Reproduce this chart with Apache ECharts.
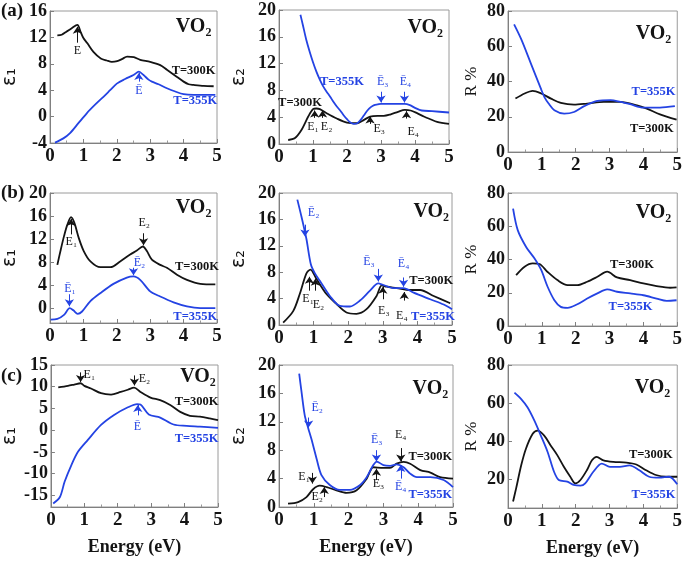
<!DOCTYPE html>
<html><head><meta charset="utf-8">
<script src="https://cdn.jsdelivr.net/npm/echarts@6/dist/echarts.min.js"></script>
<style>html,body{margin:0;padding:0;background:#fff}#c{width:685px;height:561px}</style>
</head><body><div id="c"></div>
<script>
// ---------- DATA (energy eV, value) ----------
const a_eps1_300K = [[0.22,12.3],[0.35,12.4],[0.5,12.9],[0.65,13.4],[0.82,13.9],[0.92,12.8],[1.0,11.9],[1.12,11.1],[1.3,9.8],[1.52,8.8],[1.7,8.5],[1.85,8.3],[2.01,8.4],[2.15,8.7],[2.31,9.1],[2.51,9.0],[2.7,8.6],[3.0,8.3],[3.3,7.8],[3.5,7.1],[3.75,6.2],[4.0,5.3],[4.15,4.9],[4.3,4.8],[4.6,4.65],[4.9,4.6]];
const a_eps1_355K = [[0.15,-3.95],[0.4,-3.3],[0.6,-2.5],[0.85,-1.0],[1.1,0.5],[1.35,1.8],[1.6,3.0],[1.8,4.0],[2.0,5.0],[2.25,5.7],[2.5,6.3],[2.66,6.8],[2.8,6.3],[2.95,5.6],[3.05,5.3],[3.25,4.9],[3.5,4.3],[3.75,3.8],[4.0,3.4],[4.3,3.3],[4.6,3.3],[4.95,3.3]];
const a_eps2_300K = [[0.27,0.6],[0.46,0.85],[0.66,2.1],[0.86,4.1],[1.0,5.2],[1.1,5.3],[1.2,5.2],[1.4,4.6],[1.7,3.8],[2.0,3.2],[2.3,3.1],[2.5,3.6],[2.68,4.1],[2.9,4.2],[3.08,4.2],[3.27,4.4],[3.5,4.8],[3.7,5.1],[3.87,5.0],[4.06,4.6],[4.26,4.1],[4.45,3.7],[4.65,3.3],[5.0,3.0]];
const a_eps2_355K = [[0.63,19.3],[0.7,17.8],[0.8,15.6],[0.9,13.8],[1.0,12.2],[1.1,10.8],[1.2,9.6],[1.3,8.6],[1.4,7.8],[1.5,7.1],[1.6,6.3],[1.7,5.6],[1.8,5.0],[1.9,4.3],[2.0,3.7],[2.1,3.2],[2.2,3.0],[2.3,3.1],[2.4,3.6],[2.5,4.3],[2.6,5.0],[2.7,5.5],[2.8,5.8],[2.9,5.9],[3.0,6.0],[3.4,6.0],[3.7,6.0],[3.85,5.8],[4.0,5.4],[4.2,5.0],[4.5,4.9],[5.0,4.7]];
const a_R_300K = [[0.22,30.3],[0.49,33.2],[0.73,34.7],[0.98,33.2],[1.27,30.3],[1.56,27.9],[1.95,26.9],[2.34,27.5],[2.83,28.4],[3.32,28.4],[3.81,26.5],[4.1,24.6],[4.49,21.4],[4.98,18.4]];
const a_R_355K = [[0.18,72.4],[0.39,64.0],[0.68,50.0],[0.98,35.5],[1.08,31.0],[1.2,27.5],[1.37,23.7],[1.66,21.8],[1.95,22.7],[2.25,26],[2.64,29],[3.03,29.4],[3.32,28.4],[3.61,27.1],[4.0,25.2],[4.49,25.2],[4.93,26]];

const b_eps1_300K = [[0.22,7.5],[0.32,10.1],[0.42,12.5],[0.52,14.5],[0.63,15.8],[0.73,14.8],[0.86,12.2],[1.01,9.9],[1.21,8.1],[1.51,7.1],[1.81,7.1],[2.1,8.1],[2.4,9.3],[2.6,10.0],[2.78,10.7],[2.9,9.9],[3.05,8.4],[3.3,7.5],[3.5,7.0],[3.8,5.8],[4.1,4.9],[4.5,4.2],[4.95,4.1]];
const b_eps1_355K = [[0.02,-2.0],[0.22,-1.9],[0.42,-1.2],[0.59,0.0],[0.7,-0.4],[0.83,-1.0],[0.96,-0.6],[1.21,1.2],[1.51,2.6],[1.9,4.2],[2.3,5.3],[2.5,5.5],[2.7,4.9],[3.0,2.9],[3.3,2.0],[3.7,1.0],[4.1,0.3],[4.5,0.0],[4.95,0.0]];
const b_eps2_300K = [[0.12,0.35],[0.41,2.1],[0.6,4.7],[0.79,7.8],[0.91,8.4],[1.08,7.0],[1.37,4.7],[1.66,3.2],[1.95,1.9],[2.24,1.7],[2.53,2.4],[2.82,4.4],[2.97,6.0],[3.11,5.8],[3.4,5.6],[3.79,5.3],[4.08,5.3],[4.47,4.4],[4.95,3.3]];
const b_eps2_355K = [[0.53,19],[0.65,16.4],[0.79,13.1],[0.92,9.2],[1.03,7.9],[1.18,6.7],[1.47,4.4],[1.76,2.9],[2.05,2.8],[2.34,3.7],[2.63,5.2],[2.87,6.3],[3.0,6.1],[3.3,5.6],[3.6,5.6],[3.89,4.9],[4.37,3.9],[4.76,3.1],[5.0,2.4]];
const b_R_300K = [[0.24,30.6],[0.49,35.7],[0.73,37.7],[0.93,37.3],[1.17,32.5],[1.46,27.6],[1.76,24.6],[2.05,24.6],[2.34,26.6],[2.64,29.6],[2.93,32.7],[3.22,29.2],[3.61,27.6],[4.0,25.6],[4.39,24],[4.79,23],[4.98,23.2]];
const b_R_355K = [[0.15,70.6],[0.29,57.5],[0.54,47.4],[0.78,40.7],[0.98,33.7],[1.17,23.6],[1.37,15.5],[1.56,11.5],[1.76,10.9],[2.05,13.1],[2.34,16.5],[2.64,19.6],[2.93,22],[3.22,20.6],[3.61,19.6],[4.0,18.5],[4.39,16.5],[4.69,15.1],[4.98,15.5]];

const c_eps1_300K = [[0.22,9.85],[0.51,10.2],[0.7,10.5],[0.89,10.8],[1.0,10.2],[1.2,9.6],[1.5,8.5],[1.8,8.2],[2.09,8.8],[2.3,9.3],[2.49,9.8],[2.68,8.8],[2.98,7.5],[3.27,6.9],[3.57,5.8],[3.87,4.2],[4.16,3.3],[4.46,3.1],[4.75,2.7],[5.0,2.3]];
const c_eps1_355K = [[0.07,-16.9],[0.27,-15.4],[0.41,-11.9],[0.61,-8.1],[0.81,-5.0],[1.1,-2.3],[1.5,1.2],[1.89,3.5],[2.29,5.2],[2.58,6.0],[2.68,5.9],[2.93,3.6],[3.27,2.9],[3.67,1.3],[4.06,1.0],[4.46,0.8],[5.0,0.5]];
const c_eps2_300K = [[0.26,0.47],[0.55,0.7],[0.79,1.4],[0.98,2.5],[1.17,3.0],[1.37,2.8],[1.65,2.35],[1.94,2.0],[2.23,2.35],[2.52,4.0],[2.71,5.6],[3.0,5.5],[3.19,5.5],[3.38,6.1],[3.58,6.35],[3.77,6.1],[4.06,5.2],[4.35,4.85],[4.63,4.2],[5.0,4.0]];
const c_eps2_355K = [[0.58,18.8],[0.64,16.5],[0.74,12.9],[0.84,11.1],[0.93,9.6],[1.08,6.8],[1.22,4.5],[1.46,3.1],[1.75,2.4],[2.04,2.4],[2.33,3.1],[2.52,4.2],[2.71,5.9],[2.81,6.4],[3.0,5.9],[3.19,5.8],[3.38,6.0],[3.58,5.6],[3.77,4.7],[3.96,4.2],[4.35,4.2],[4.73,3.8],[5.0,2.8]];
const c_R_300K = [[0.15,8.4],[0.24,15.3],[0.39,27.4],[0.53,36.1],[0.73,43.9],[0.87,45.6],[1.07,43.0],[1.26,37.8],[1.46,32.6],[1.65,26.6],[1.84,21.4],[1.99,17.9],[2.14,19.7],[2.33,24.8],[2.48,30.0],[2.62,31.8],[2.82,30.0],[3.11,29.2],[3.5,28.8],[3.79,27.8],[4.08,24.8],[4.37,22.3],[4.66,21.4],[5.0,21.4]];
const c_R_355K = [[0.19,65.5],[0.39,62.1],[0.58,57.7],[0.78,50.8],[0.97,43.0],[1.17,34.4],[1.36,24.0],[1.5,19.7],[1.75,18.8],[1.94,17.1],[2.14,16.7],[2.28,17.9],[2.52,24.0],[2.77,28.3],[3.01,26.6],[3.3,26.6],[3.59,27.4],[3.88,24.8],[4.17,21.4],[4.47,20.9],[4.76,21.4],[5.0,17.4]];

// tick labels
const xTicks = [0,1,2,3,4,5];
const ticksEps1a = [-4,0,4,8,12,16];
const ticksEps1b = [0,4,8,12,16,20];
const ticksEps1c = [-15,-10,-5,0,5,10,15];
const ticksEps2 = [0,4,8,12,16,20];
const ticksR = [0,20,40,60,80];
const ticksRc = [20,40,60,80];

// ---------- STYLE / LAYOUT ----------
const BLACK = '#141414', BLUE = '#2443e3';
const SERIF = 'Liberation Serif, Times New Roman, serif';
const SANS = 'DejaVu Sans, sans-serif';

const panels = [
 {g:{left:49,top:11,width:168,height:132}, ymin:-4, ymax:16, yt:ticksEps1a, yname:'ε₁', s1:a_eps1_300K, s2:a_eps1_355K,
  arrows:[[0.82,11.2,13.6,BLACK],[2.66,5.3,6.6,BLUE]],
  texts:[[0.82,10.0,'E',BLACK,'e'],[2.66,3.9,'Ē',BLUE,'e'],[4.3,7.0,'T=300K',BLACK,'t'],[4.35,2.4,'T=355K',BLUE,'t'],[4.3,13.6,'VO₂',BLACK,'v']]},
 {g:{left:279,top:10,width:170,height:134}, ymin:0, ymax:20, yt:ticksEps2, yname:'ε₂', s1:a_eps2_300K, s2:a_eps2_355K,
  arrows:[[1.05,3.9,5.0,BLACK],[1.28,3.9,5.0,BLACK],[2.68,3.0,4.1,BLACK],[3.75,3.8,4.9,BLACK],[3.0,7.8,6.2,BLUE],[3.69,7.8,6.2,BLUE]],
  texts:[[1.0,2.5,'E₁',BLACK,'e'],[1.4,2.5,'E₂',BLACK,'e'],[2.95,2.2,'E₃',BLACK,'e'],[3.95,1.8,'E₄',BLACK,'e'],[3.05,9.3,'Ē₃',BLUE,'e'],[3.72,9.3,'Ē₄',BLUE,'e'],
         [0.62,6.2,'T=300K',BLACK,'t'],[1.85,9.3,'T=355K',BLUE,'t'],[4.3,17.4,'VO₂',BLACK,'v']]},
 {g:{left:508,top:11,width:171,height:141}, ymin:0, ymax:80, yt:ticksR, yname:'R %', s1:a_R_300K, s2:a_R_355K,
  arrows:[], texts:[[4.3,34,'T=355K',BLUE,'t'],[4.25,13,'T=300K',BLACK,'t'],[4.3,67,'VO₂',BLACK,'v']]},

 {g:{left:49,top:193,width:168,height:130}, ymin:-2.6, ymax:20, yt:ticksEps1b, yname:'ε₁', s1:b_eps1_300K, s2:b_eps1_355K,
  arrows:[[0.63,12.8,15.5,BLACK],[2.8,13.0,10.9,BLACK],[0.58,2.4,0.3,BLUE],[2.5,7.0,5.7,BLUE]],
  texts:[[0.64,11.5,'E₁',BLACK,'e'],[2.82,14.8,'E₂',BLACK,'e'],[0.6,3.3,'Ē₁',BLUE,'e'],[2.68,7.9,'Ē₂',BLUE,'e'],
         [4.4,7.2,'T=300K',BLACK,'t'],[4.35,-1.5,'T=355K',BLUE,'t'],[4.3,17.4,'VO₂',BLACK,'v']]},
 {g:{left:279,top:193,width:173,height:132}, ymin:0, ymax:20, yt:ticksEps2, yname:'ε₂', s1:b_eps2_300K, s2:b_eps2_355K,
  arrows:[[0.75,15.2,13.4,BLUE],[0.88,5.2,7.3,BLACK],[1.05,5.2,7.0,BLACK],[2.87,8.5,6.6,BLUE],[3.0,3.9,5.8,BLACK],[3.6,7.2,5.8,BLUE],[3.62,3.7,5.0,BLACK]],
  texts:[[1.0,17.0,'Ē₂',BLUE,'e'],[0.84,3.9,'E₁',BLACK,'e'],[1.14,3.1,'E₂',BLACK,'e'],[2.6,9.5,'Ē₃',BLUE,'e'],[3.03,2.1,'E₃',BLACK,'e'],
         [3.6,9.3,'Ē₄',BLUE,'e'],[3.55,1.4,'E₄',BLACK,'e'],[4.4,6.7,'T=300K',BLACK,'t'],[4.45,1.3,'T=355K',BLUE,'t'],[4.4,17.2,'VO₂',BLACK,'v']]},
 {g:{left:508,top:193,width:172,height:133}, ymin:0, ymax:80, yt:ticksR, yname:'R %', s1:b_R_300K, s2:b_R_355K,
  arrows:[], texts:[[3.66,36.7,'T=300K',BLACK,'t'],[3.62,11.5,'T=355K',BLUE,'t'],[4.3,68,'VO₂',BLACK,'v']]},

 {g:{left:49,top:365,width:169,height:142}, ymin:-17.7, ymax:15, yt:ticksEps1c, yname:'ε₁', xname:true, s1:c_eps1_300K, s2:c_eps1_355K,
  arrows:[[0.89,13.3,11.1,BLACK],[2.5,12.6,10.3,BLACK],[2.6,3.4,5.8,BLUE]],
  texts:[[1.15,12.7,'E₁',BLACK,'e'],[2.8,11.9,'E₂',BLACK,'e'],[2.59,0.7,'Ē',BLUE,'e'],[4.36,6.5,'T=300K',BLACK,'t'],[4.36,-2.1,'T=355K',BLUE,'t'],[4.4,12.3,'VO₂',BLACK,'v']]},
 {g:{left:279,top:365,width:174,height:142}, ymin:0, ymax:20, yt:ticksEps2, yname:'ε₂', xname:true, s1:c_eps2_300K, s2:c_eps2_355K,
  arrows:[[0.85,12.6,11.2,BLUE],[0.96,4.8,3.3,BLACK],[1.3,1.4,2.8,BLACK],[2.8,8.0,6.4,BLUE],[2.8,3.8,5.4,BLACK],[3.5,8.3,6.4,BLACK],[3.5,4.0,5.9,BLUE]],
  texts:[[1.1,13.9,'Ē₂',BLUE,'e'],[0.72,4.2,'E₁',BLACK,'e'],[1.1,1.4,'E₂',BLACK,'e'],[2.81,9.4,'Ē₃',BLUE,'e'],[2.86,3.2,'E₃',BLACK,'e'],
         [3.5,10.1,'E₄',BLACK,'e'],[3.5,2.8,'Ē₄',BLUE,'e'],[4.35,7.1,'T=300K',BLACK,'t'],[4.35,1.7,'T=355K',BLUE,'t'],[4.35,16.7,'VO₂',BLACK,'v']]},
 {g:{left:508,top:365,width:172,height:143}, ymin:5, ymax:80, yt:ticksRc, yname:'R %', xname:true, s1:c_R_300K, s2:c_R_355K,
  arrows:[], texts:[[4.22,33,'T=300K',BLACK,'t'],[4.3,11.9,'T=355K',BLUE,'t'],[4.27,68,'VO₂',BLACK,'v']]}
];

const textStyles = {
  e:{fontSize:12, fontWeight:'normal'},
  t:{fontSize:12.5, fontWeight:'bold'},
  v:{fontSize:20, fontWeight:'bold'}
};

const grid=[], xAxis=[], yAxis=[], series=[];
panels.forEach((p,i)=>{
  grid.push(Object.assign({show:true, borderColor:'#9a9a9a', borderWidth:1, containLabel:false}, p.g));
  xAxis.push({type:'value', gridIndex:i, min:0, max:5, interval:1,
    name: p.xname ? 'Energy (eV)' : '', nameLocation:'middle', nameGap:31,
    nameTextStyle:{fontFamily:SERIF, fontWeight:'bold', fontSize:18, color:BLACK},
    axisLine:{show:true, onZero:false, lineStyle:{color:'#808080', width:1}},
    axisTick:{show:true, inside:true, length:4, lineStyle:{color:'#808080'}},
    minorTick:{show:true, splitNumber:2, length:2.5, lineStyle:{color:'#999'}},
    splitLine:{show:false}, minorSplitLine:{show:false},
    axisLabel:{fontFamily:SERIF, fontWeight:'bold', fontSize:19, color:BLACK, margin:4, customValues:xTicks}});
  const isR = p.yname==='R %';
  yAxis.push({type:'value', gridIndex:i, min:p.ymin, max:p.ymax,
    name:p.yname, nameLocation:'middle', nameRotate:90, nameGap: isR?28:30,
    nameTextStyle:{fontFamily: isR?SERIF:SANS, fontSize: isR?17:19, color:BLACK},
    axisLine:{show:true, onZero:false, lineStyle:{color:'#808080', width:1}},
    axisTick:{show:true, inside:true, length:4, customValues:p.yt, lineStyle:{color:'#808080'}},
    splitLine:{show:false},
    axisLabel:{fontFamily:SERIF, fontWeight:'bold', fontSize:18, color:BLACK, margin:3, customValues:p.yt}});
  const mkArrows = (col)=>p.arrows.filter(a=>a[3]===col).map(a=>[{coord:[a[0],a[1]]},{coord:[a[0],a[2]]}]);
  const mkTexts = (col)=>p.texts.filter(t=>t[3]===col).map(t=>({coord:[t[0],t[1]], value:t[2],
      label:Object.assign({show:true, position:'inside', formatter:t[2], color:col, fontFamily:SERIF}, textStyles[t[4]])}));
  [[p.s1,BLACK],[p.s2,BLUE]].forEach(([d,col])=>{
    series.push({type:'line', xAxisIndex:i, yAxisIndex:i, data:d, showSymbol:false, smooth:0.3,
      lineStyle:{color:col, width:1.8}, itemStyle:{color:col}, animation:false, silent:true, z:3,
      markLine:{silent:true, animation:false, symbol:['none','arrow'], symbolSize:7,
        lineStyle:{color:col, width:1, type:'solid'}, label:{show:false}, data:mkArrows(col)},
      markPoint:{silent:true, animation:false, symbol:'circle', symbolSize:0, itemStyle:{color:'transparent'}, data:mkTexts(col)}
    });
  });
});

const chart = echarts.init(document.getElementById('c'), null, {renderer:'canvas'});
chart.setOption({
  backgroundColor:'#fff', animation:false,
  grid, xAxis, yAxis, series,
  graphic:[
    {type:'text', left:1, top:2, style:{text:'(a)', font:'bold 19px '+SERIF, fill:BLACK}},
    {type:'text', left:1, top:184, style:{text:'(b)', font:'bold 19px '+SERIF, fill:BLACK}},
    {type:'text', left:1, top:367, style:{text:'(c)', font:'bold 19px '+SERIF, fill:BLACK}}
  ]
});
</script></body></html>
